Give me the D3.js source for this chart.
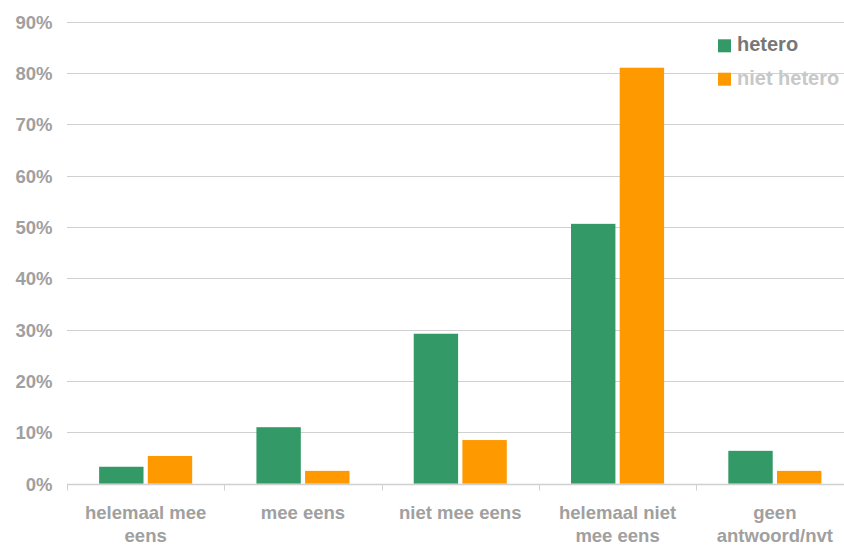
<!DOCTYPE html>
<html>
<head>
<meta charset="utf-8">
<script src="https://cdn.jsdelivr.net/npm/d3@7"></script>
<style>
html, body { margin: 0; padding: 0; background: #fff; overflow: hidden; }
svg { display: block; font-family: "Liberation Sans", Arial, Helvetica, sans-serif; }
</style>
</head>
<body>
<svg id="chart" width="844" height="546"></svg>
<script>
const categories = [
  ["helemaal mee", "eens"],
  ["mee eens"],
  ["niet mee eens"],
  ["helemaal niet", "mee eens"],
  ["geen", "antwoord/nvt"]
];
const seriesNames = ["hetero", "niet hetero"];
const heteroValues = [3.3, 11.0, 29.2, 50.6, 6.4];
const nietHeteroValues = [5.4, 2.5, 8.5, 81.0, 2.5];
const yTicks = [0, 10, 20, 30, 40, 50, 60, 70, 80, 90];
const colors = ["#339966", "#ff9900"];

const svg = d3.select("#chart");
const catKeys = categories.map((c, i) => i);
const seriesValues = [heteroValues, nietHeteroValues];

const x0 = d3.scaleBand().domain(catKeys).range([67, 853.5]).paddingInner(0).paddingOuter(0);
const x1 = d3.scaleBand().domain(seriesNames).range([0, x0.bandwidth()]).paddingInner(0.088).paddingOuter(0.66);
const y = d3.scaleLinear().domain([0, 90]).range([483.7, 21.5]);

// gridlines
svg.append("g").selectAll("line").data(yTicks.filter(t => t > 0)).join("line")
  .attr("x1", 67).attr("x2", 844)
  .attr("y1", d => Math.round(y(d)) + 0.5).attr("y2", d => Math.round(y(d)) + 0.5)
  .attr("stroke", "#d0d0d0").attr("stroke-width", 1);

// y labels
svg.append("g").selectAll("text").data(yTicks).join("text")
  .attr("x", 52.5).attr("y", d => y(d) + 7)
  .attr("text-anchor", "end")
  .attr("font-size", "18.5px").attr("font-weight", "bold").attr("fill", "#a0a0a0")
  .text(d => d + "%");

// bars
const groups = svg.append("g").selectAll("g").data(catKeys).join("g")
  .attr("transform", d => `translate(${x0(d)},0)`);
groups.selectAll("rect")
  .data(i => seriesNames.map((s, k) => ({ s, k, v: seriesValues[k][i] })))
  .join("rect")
  .attr("x", d => x1(d.s))
  .attr("width", x1.bandwidth())
  .attr("y", d => y(d.v))
  .attr("height", d => y(0) - y(d.v))
  .attr("fill", d => colors[d.k]);

// x axis line and ticks
const axisY = Math.round(y(0)) + 0.5;
svg.append("line").attr("x1", 67).attr("x2", 844).attr("y1", axisY).attr("y2", axisY)
  .attr("stroke", "#d0d0d0").attr("stroke-width", 1.5);
svg.append("g").selectAll("line").data(catKeys).join("line")
  .attr("x1", d => Math.round(x0(d)) + 0.5).attr("x2", d => Math.round(x0(d)) + 0.5)
  .attr("y1", axisY).attr("y2", axisY + 6)
  .attr("stroke", "#d0d0d0").attr("stroke-width", 1);

// category labels
const labels = svg.append("g").selectAll("text").data(catKeys).join("text")
  .attr("x", d => x0(d) + x0.bandwidth() / 2)
  .attr("y", 519)
  .attr("text-anchor", "middle")
  .attr("font-size", "18.5px").attr("font-weight", "bold").attr("fill", "#a0a0a0");
labels.selectAll("tspan").data(d => categories[d].map(t => ({ t, cx: x0(d) + x0.bandwidth() / 2 })))
  .join("tspan")
  .attr("x", d => d.cx)
  .attr("dy", (d, i) => i === 0 ? 0 : 23)
  .text(d => d.t);

// legend
const legend = svg.append("g").selectAll("g").data(seriesNames).join("g")
  .attr("transform", (d, i) => `translate(718, ${39.3 + i * 33.4})`);
legend.append("rect").attr("width", 13).attr("height", 13).attr("fill", (d, i) => colors[i]);
legend.append("text").attr("x", 19).attr("y", 12)
  .attr("font-size", "20px").attr("font-weight", "bold")
  .attr("fill", (d, i) => i === 0 ? "#777777" : "#c8c8c8")
  .text(d => d);
</script>
</body>
</html>
